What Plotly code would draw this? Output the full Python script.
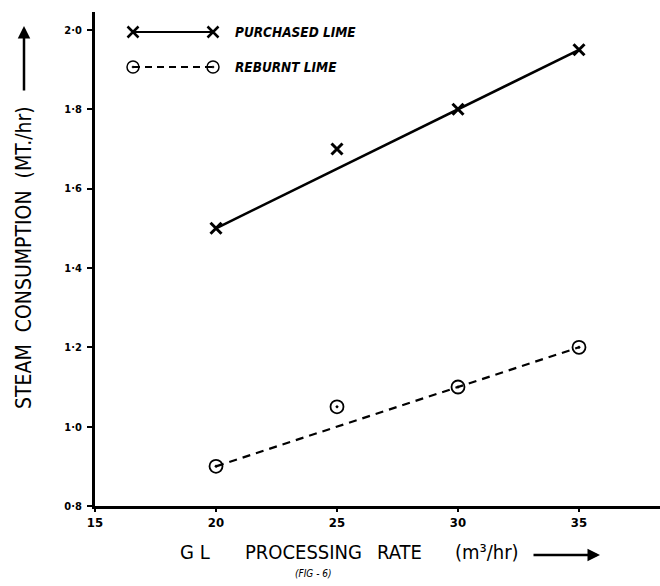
import plotly.graph_objects as go

# ---- data ----
rate = [20, 25, 30, 35]
purchased = [1.50, 1.70, 1.80, 1.95]
reburnt = [0.90, 1.05, 1.10, 1.20]
# hand-drawn best-fit lines (end points)
fit_x = [20, 35]
purchased_fit = [1.50, 1.95]
reburnt_fit = [0.90, 1.20]

x_ticks = [15, 20, 25, 30, 35]
x_ticktext = ["15", "20", "25", "30", "35"]
y_ticks = [0.8, 1.0, 1.2, 1.4, 1.6, 1.8, 2.0]
y_ticktext = ["0·8", "1·0", "1·2", "1·4", "1·6", "1·8", "2·0"]

FONT = "DejaVu Sans Condensed, Liberation Sans Narrow, DejaVu Sans, sans-serif"
BOLD = "DejaVu Sans Condensed, DejaVu Sans"

fig = go.Figure()

# fitted lines
fig.add_trace(go.Scatter(x=fit_x, y=purchased_fit, mode="lines",
                         line=dict(color="black", width=2.6), showlegend=False, hoverinfo="skip"))
fig.add_trace(go.Scatter(x=fit_x, y=reburnt_fit, mode="lines",
                         line=dict(color="black", width=2.2, dash="8px,6px"), showlegend=False, hoverinfo="skip"))
# data markers
fig.add_trace(go.Scatter(x=rate, y=purchased, mode="markers", name="PURCHASED LIME",
                         marker=dict(symbol="x-thin-open", size=11, color="black",
                                     line=dict(color="black", width=3)), showlegend=False))
fig.add_trace(go.Scatter(x=rate, y=reburnt, mode="markers", name="REBURNT LIME",
                         marker=dict(symbol="circle-open-dot", size=13, color="black",
                                     line=dict(color="black", width=1.8)), showlegend=False))

# legend drawn on an overlay pixel-space axis
lx = [133, 213]
fig.add_trace(go.Scatter(x=lx, y=[32, 32], xaxis="x2", yaxis="y2", mode="lines+markers",
                         line=dict(color="black", width=1.8),
                         marker=dict(symbol="x-thin-open", size=11, line=dict(color="black", width=2.5)),
                         showlegend=False, hoverinfo="skip"))
fig.add_trace(go.Scatter(x=lx, y=[67, 67], xaxis="x2", yaxis="y2", mode="lines+markers",
                         line=dict(color="black", width=1.8, dash="7px,5px"),
                         marker=dict(symbol="circle-open-dot", size=12, color="black",
                                     line=dict(color="black", width=1.5)),
                         showlegend=False, hoverinfo="skip"))

W, H = 660, 586
L, R, T, B = 95, 0, 12, 80
pw, ph = W - L - R, H - T - B

fig.update_layout(
    width=W, height=H,
    margin=dict(l=L, r=R, t=T, b=B),
    paper_bgcolor="white", plot_bgcolor="white",
    font=dict(family=FONT, color="black"),
    xaxis=dict(range=[15, 15 + pw / 24.2], tickvals=x_ticks, ticktext=x_ticktext,
               showline=True, linecolor="black", linewidth=2.5, ticks="outside",
               ticklen=3, tickwidth=2, tickcolor="black", showgrid=False, zeroline=False,
               ticklabelstandoff=0,
               tickfont=dict(size=13, family=BOLD, weight="bold")),
    yaxis=dict(range=[0.8, 0.8 + ph / 396.7], tickvals=y_ticks, ticktext=y_ticktext,
               showline=True, linecolor="black", linewidth=3, ticks="outside",
               ticklen=5, tickwidth=2, tickcolor="black", showgrid=False, zeroline=False,
               ticklabelstandoff=3,
               tickfont=dict(size=11, family=BOLD, weight="bold")),
    xaxis2=dict(overlaying="x", range=[L, W - R], visible=False, fixedrange=True),
    yaxis2=dict(overlaying="y", range=[H - B, T], visible=False, fixedrange=True),
)

def px_x(p):
    return (p - L) / pw

def px_y(p):
    return (H - B - p) / ph

annos = [
    dict(text="<i>PURCHASED LIME</i>", x=px_x(233), y=px_y(32), xanchor="left", yanchor="middle",
         font=dict(size=13.5, weight="bold")),
    dict(text="<i>REBURNT LIME</i>", x=px_x(233), y=px_y(67), xanchor="left", yanchor="middle",
         font=dict(size=13.5, weight="bold")),
    dict(text="STEAM  CONSUMPTION  (MT./hr)", x=px_x(24), y=px_y(258), textangle=-90,
         xanchor="center", yanchor="middle", font=dict(size=21)),
    dict(text="G L", x=px_x(178), y=px_y(552), xanchor="left", yanchor="middle", font=dict(size=20)),
    dict(text="PROCESSING", x=px_x(243), y=px_y(552), xanchor="left", yanchor="middle", font=dict(size=20)),
    dict(text="RATE", x=px_x(375), y=px_y(552), xanchor="left", yanchor="middle", font=dict(size=20)),
    dict(text="(m³/hr)", x=px_x(453), y=px_y(552), xanchor="left", yanchor="middle", font=dict(size=20)),
    dict(text="<i>(FIG - 6)</i>", x=px_x(313), y=px_y(573), xanchor="center", yanchor="middle",
         font=dict(size=10)),
]
for a in annos:
    a.update(xref="paper", yref="paper", showarrow=False)
    fig.add_annotation(**a)

# arrows
fig.add_annotation(x=px_x(24), y=px_y(26), xref="paper", yref="paper", ax=0, ay=66,
                   showarrow=True, arrowhead=2, arrowwidth=2.5, arrowsize=1, arrowcolor="black", text="")
fig.add_annotation(x=px_x(600), y=px_y(555), xref="paper", yref="paper", ax=-68, ay=0,
                   showarrow=True, arrowhead=2, arrowwidth=2.5, arrowsize=1, arrowcolor="black", text="")

fig.write_html("out.html")
